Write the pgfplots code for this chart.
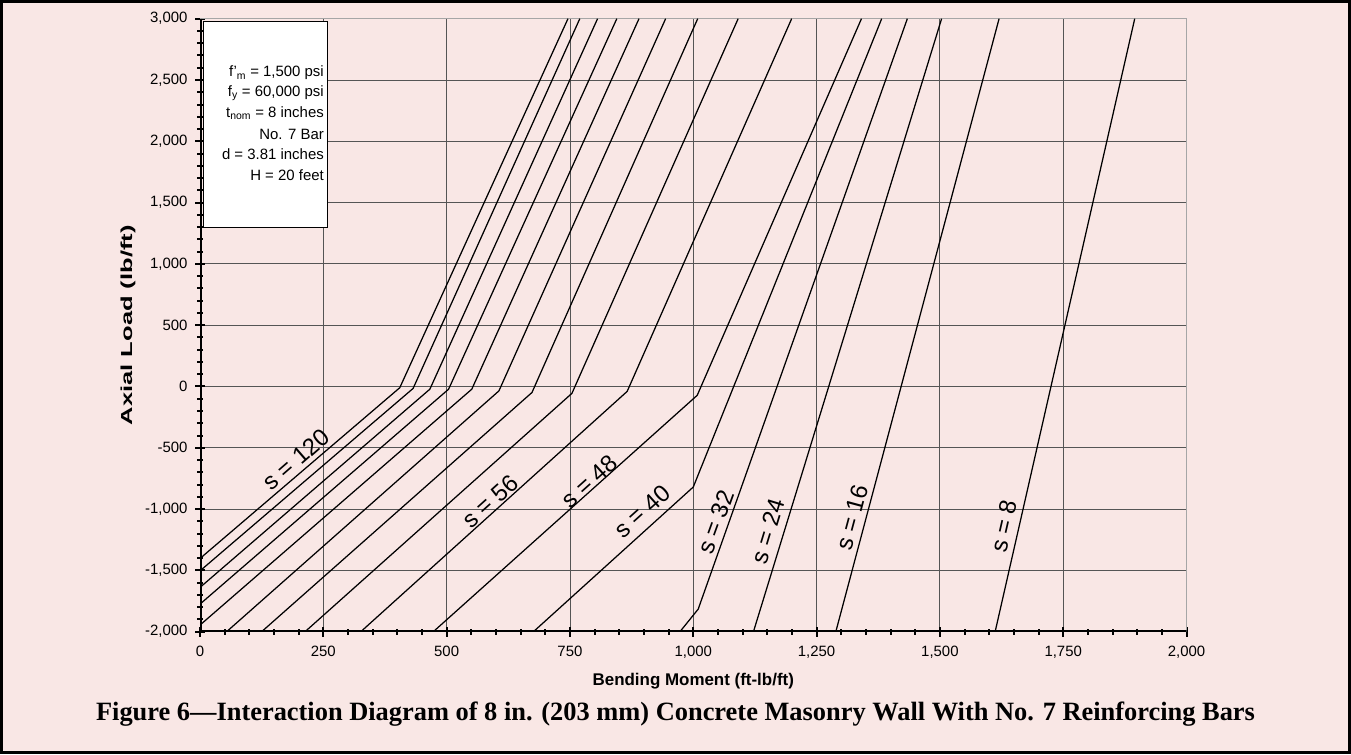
\documentclass[border=0pt]{standalone}
\usepackage{fontspec}
\setmainfont{Liberation Sans}
\newfontfamily\capfont{Liberation Serif}
\usepackage{graphicx}
\usepackage{pgfplots}
\pgfplotsset{compat=1.18}
\definecolor{bgpink}{RGB}{249,231,229}
\definecolor{gridgray}{RGB}{85,85,85}
\pgfplotsset{cl/.style={black, solid, mark=none, line width=1.25bp}}
\begin{document}
\begin{tikzpicture}[x=1bp,y=1bp]
\fill[bgpink] (0,0) rectangle (1351,754);
\draw[line width=3bp] (1.5,1.5) rectangle (1349.5,752.5);
\begin{axis}[
  at={(200bp,122.3bp)}, anchor=south west,
  width=986.5bp, height=613bp, scale only axis,
  xmin=0, xmax=2000, ymin=-2000, ymax=3000,
  xtick={0,250,...,2000}, ytick={-2000,-1500,...,3000},
  minor x tick num=4, minor y tick num=4,
  grid=major, major grid style={gridgray, line width=0.9bp},
  axis line style={gray!70, line width=1bp},
  tick pos=left, tick align=center,
  major tick length=10bp, minor tick length=6bp,
  every tick/.style={black, line width=2bp},
  /pgf/number format/assume math mode=true,
  /pgf/number format/1000 sep={,},
  scaled ticks=false,
  ticklabel style={font=\fontsize{15}{18}\selectfont},
  xticklabel style={yshift=-6bp},
  yticklabel style={xshift=-4bp},
  xlabel={\bfseries Bending Moment (ft-lb/ft)},
  ylabel={\scalebox{1.6}[1]{\bfseries Axial Load (lb/ft)}},
  xlabel style={at={(axis description cs:0.5,-0.08)}, anchor=center, font=\fontsize{17}{19}\selectfont},
  ylabel style={at={(axis description cs:-0.073,0.5)}, anchor=center, rotate=0, font=\fontsize{16}{18}\selectfont},
]
\addplot[cl] coordinates {(0,-1403) (405,-10) (746,3000)};
\addplot[cl] coordinates {(0,-1504) (432,-16) (770,3000)};
\addplot[cl] coordinates {(0,-1639) (466,-22) (806,3000)};
\addplot[cl] coordinates {(0,-1775) (504,-22) (845,3000)};
\addplot[cl] coordinates {(0,-1946) (551,-22) (890,3000)};
\addplot[cl] coordinates {(54,-2000) (606,-36) (944,3000)};
\addplot[cl] coordinates {(125,-2000) (673,-49) (1009,3000)};
\addplot[cl] coordinates {(213,-2000) (754,-56) (1091,3000)};
\addplot[cl] coordinates {(326,-2000) (866,-40) (1199.5,3000)};
\addplot[cl] coordinates {(473,-2000) (1008,-72) (1341,3000)};
\addplot[cl] coordinates {(676,-2000) (1000,-820) (1382,3000)};
\addplot[cl] coordinates {(973,-2000) (1010,-1816) (1434,3000)};
\addplot[cl] coordinates {(1122,-2000) (1503.5,3000)};
\addplot[cl] coordinates {(1289,-2000) (1620,3000)};
\addplot[cl] coordinates {(1612,-2000) (1895,3000)};
\begin{scope}[every node/.style={font=\fontsize{24}{26}\selectfont, inner sep=0pt}]
\node[rotate=41] at (axis cs:195,-594) {s = 120};
\node[rotate=42] at (axis cs:588,-935) {s = 56};
\node[rotate=42] at (axis cs:790,-772) {s = 48};
\node[rotate=42] at (axis cs:896,-1017) {s = 40};
\node[rotate=70] at (axis cs:1046,-1107) {s = 32};
\node[rotate=73] at (axis cs:1151,-1180) {s = 24};
\node[rotate=75] at (axis cs:1322,-1066) {s = 16};
\node[rotate=77] at (axis cs:1630,-1140) {s = 8};
\end{scope}
\draw[black, line width=3bp] (rel axis cs:0,1) -- (rel axis cs:0,0) -- (rel axis cs:1,0);
\end{axis}
\draw[fill=white, line width=1bp] (203,526) rectangle (327,732);
\begin{scope}[every node/.style={anchor=east, font=\fontsize{15}{18}\selectfont, inner sep=0pt}]
\node at (324,681) {f\textquoteright\textsubscript{m} = 1,500 psi};
\node at (324,661) {f\textsubscript{y} = 60,000 psi};
\node at (324,641) {t\textsubscript{nom} = 8 inches};
\node at (324,620) {No. 7 Bar};
\node at (324,600) {d = 3.81 inches};
\node at (324,579) {H = 20 feet};
\end{scope}
\node[font=\capfont\bfseries\fontsize{26.5}{28}\selectfont] at (675.5,40) {Figure 6—Interaction Diagram of 8 in. (203 mm) Concrete Masonry Wall With No. 7 Reinforcing Bars};
\end{tikzpicture}
\end{document}
